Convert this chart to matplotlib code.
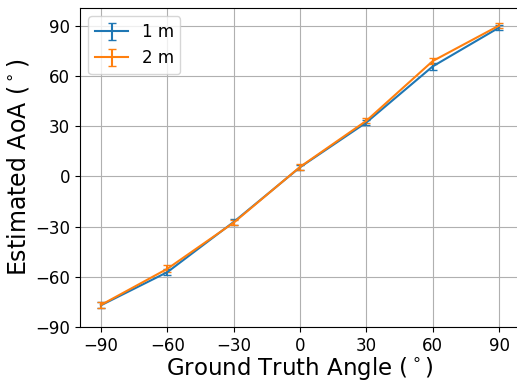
import numpy as np
import matplotlib
matplotlib.use("Agg")
import matplotlib.pyplot as plt

angles = [-90, -60, -30, 0, 30, 60, 90]
aoa_1m = [-77, -57.2, -27.2, 5.5, 32.3, 65.8, 89.0]
err_1m = [1.8, 2.0, 1.8, 1.6, 1.6, 2.0, 1.6]
aoa_2m = [-76.8, -55.2, -27.6, 5.7, 33.3, 69.0, 90.2]
err_2m = [1.8, 2.0, 1.6, 1.6, 1.6, 1.8, 1.6]

fig = plt.figure(figsize=(5.17, 3.81), dpi=100)
ax = fig.add_axes([80/517, 1 - 327/381, 439/517, 319/381])

ax.errorbar(angles, aoa_1m, yerr=err_1m, capsize=3, label="1 m", color="#1f77b4")
ax.errorbar(angles, aoa_2m, yerr=err_2m, capsize=3, label="2 m", color="#ff7f0e")

ax.set_xlim(-99.5, 99)
ax.set_ylim(-90, 100.7)
ax.set_xticks([-90, -60, -30, 0, 30, 60, 90])
ax.set_yticks([-90, -60, -30, 0, 30, 60, 90])
ax.tick_params(labelsize=12)
ax.set_xlabel(r"Ground Truth Angle ($^\circ$)", fontsize=16.5, labelpad=0)
ax.set_ylabel(r"Estimated AoA ($^\circ$)", fontsize=17, labelpad=3)
ax.grid(True)
ax.legend(loc="upper left", fontsize=12)

fig.savefig("out.png", dpi=100)
